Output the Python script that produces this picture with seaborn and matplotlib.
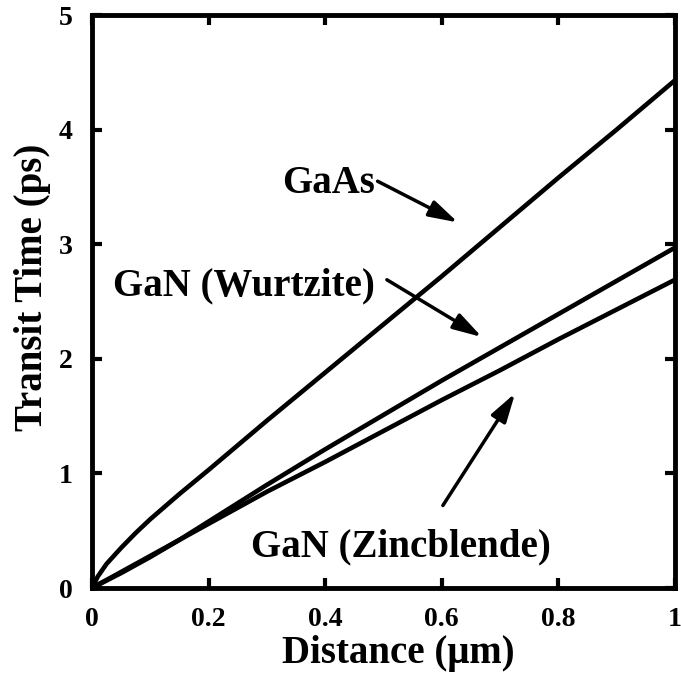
import numpy as np
import pandas as pd
import matplotlib
matplotlib.use("Agg")
import matplotlib.pyplot as plt
import seaborn as sns

# Transit time vs. distance for three semiconductors
distance = [0.0, 0.01, 0.025, 0.05, 0.075, 0.1, 0.15, 0.2, 0.3, 0.4, 0.5, 0.6, 0.7, 0.8, 0.9, 1.0]
gaas = [0.0, 0.10, 0.21, 0.35, 0.48, 0.60, 0.82, 1.03, 1.46, 1.88, 2.30, 2.72, 3.15, 3.58, 4.00, 4.43]
gan_wurtzite = [0.0, 0.025, 0.065, 0.13, 0.20, 0.27, 0.42, 0.58, 0.90, 1.21, 1.51, 1.81, 2.10, 2.39, 2.68, 2.97]
gan_zincblende = [0.0, 0.03, 0.07, 0.14, 0.21, 0.28, 0.42, 0.56, 0.84, 1.10, 1.37, 1.64, 1.90, 2.17, 2.43, 2.69]

series_names = ["GaAs", "GaN (Wurtzite)", "GaN (Zincblende)"]
x_ticks = [0, 0.2, 0.4, 0.6, 0.8, 1]
x_tick_labels = ["0", "0.2", "0.4", "0.6", "0.8", "1"]
y_ticks = [0, 1, 2, 3, 4, 5]
y_tick_labels = ["0", "1", "2", "3", "4", "5"]

df = pd.concat([
    pd.DataFrame({"Distance": distance, "Transit": vals, "Material": name})
    for name, vals in zip(series_names, [gaas, gan_wurtzite, gan_zincblende])
])

sns.set_theme(style="ticks")
plt.rcParams["font.family"] = ["Liberation Serif", "DejaVu Serif"]
plt.rcParams["font.weight"] = "bold"
for key in ["text.color", "axes.labelcolor", "xtick.color", "ytick.color",
            "axes.edgecolor"]:
    plt.rcParams[key] = "black"

fig = plt.figure(figsize=(6.81, 6.85), dpi=100)
ax = fig.add_axes([0.135, 0.1416, 0.856, 0.8364])

sns.lineplot(data=df, x="Distance", y="Transit", hue="Material",
             palette=["black"] * 3, linewidth=3.3, legend=False, ax=ax,
             estimator=None, sort=False)

ax.set_xlim(0, 1)
ax.set_ylim(0, 5)
ax.set_xticks(x_ticks)
ax.set_xticklabels(x_tick_labels)
ax.set_yticks(y_ticks)
ax.set_yticklabels(y_tick_labels)
ax.tick_params(direction="in", length=7, width=3, labelsize=20,
               top=True, right=True, colors="black")
ax.tick_params(axis="x", pad=14)
ax.tick_params(axis="y", pad=14)
for lab in ax.get_xticklabels() + ax.get_yticklabels():
    lab.set_fontweight("bold")

for sp in ax.spines.values():
    sp.set_linewidth(3.5)
    sp.set_color("black")

ax.set_xlabel("Distance (\u03bcm)", fontsize=28, fontweight="bold")
ax.set_ylabel("Transit Time (ps)", fontsize=28, fontweight="bold")
ax.xaxis.set_label_coords(0.525, -0.082)
ax.yaxis.set_label_coords(-0.070, 0.525)

arrow = dict(arrowstyle="-|>,head_length=1.1,head_width=0.32", lw=2.5,
             color="black", shrinkA=0, shrinkB=0, mutation_scale=16)
label_kw = dict(fontsize=28, fontweight="bold", va="center")

ax.text(0.485, 3.53, "GaAs", ha="right", **label_kw)
ax.annotate("", xy=(0.628, 3.19), xytext=(0.490, 3.55), arrowprops=arrow)

ax.text(0.485, 2.64, "GaN (Wurtzite)", ha="right", **label_kw)
ax.annotate("", xy=(0.669, 2.19), xytext=(0.506, 2.69), arrowprops=arrow)

ax.annotate("", xy=(0.726, 1.70), xytext=(0.602, 0.72), arrowprops=arrow)
ax.text(0.53, 0.36, "GaN (Zincblende)", ha="center", **label_kw)

fig.savefig("out.png", dpi=100)
